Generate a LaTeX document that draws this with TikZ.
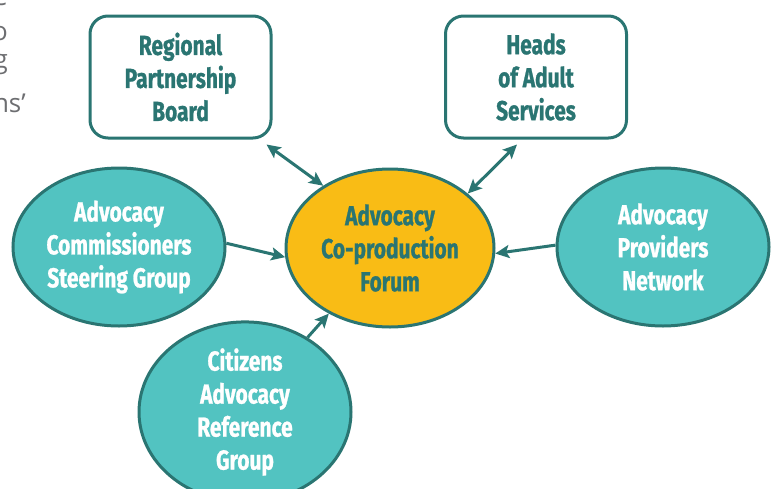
\documentclass[tikz,border=0pt]{standalone}
\usepackage{fontspec}
\usetikzlibrary{shapes.geometric,arrows.meta}
\newfontfamily\labelfont{Fira Sans}[FakeStretch=0.76, BoldFeatures={FakeBold=0.9}]
\newfontfamily\bodyfont{Open Sans}
\definecolor{tealdark}{HTML}{2A7572}
\definecolor{tealfill}{HTML}{52C3C1}
\definecolor{gold}{HTML}{F9BC15}
\definecolor{textgray}{HTML}{6D6E71}
\tikzset{
  labeltext/.style={font=\labelfont\bfseries\fontsize{27.5}{33}\selectfont, align=center, inner sep=0pt},
  board/.style={labeltext, draw=tealdark, line width=3pt, rounded corners=18pt, fill=white,
    text=tealdark, minimum width=181pt, minimum height=122pt},
  group/.style={labeltext, ellipse, draw=tealdark, line width=3pt, fill=tealfill,
    text=white, minimum width=212pt, minimum height=158pt},
  forumstyle/.style={group, fill=gold, text=tealdark, minimum width=208pt, minimum height=158pt},
  link/.style={draw=tealdark, line width=3pt, -{Stealth[length=14pt,width=13pt,inset=3pt]}},
  twoway/.style={link, {Stealth[length=14pt,width=13pt,inset=3pt]}-{Stealth[length=14pt,width=13pt,inset=3pt]}},
  bodytext/.style={font=\bodyfont\fontsize{26}{30}\selectfont, text=textgray, inner sep=0pt, anchor=base east}
}
\begin{document}
\begin{tikzpicture}[x=1pt,y=-1pt]
\useasboundingbox (0,0) rectangle (776,488);
\clip (0,0) rectangle (776,488);

% line endings of the neighbouring paragraph
\node[bodytext] (t1) at (8,5) {e};
\node[bodytext] (t2) at (8,40) {o};
\node[bodytext] (t3) at (8,68) {g};
\node[bodytext] (t4) at (26,112) {ns’};

% boxes
\node[board] (rpb) at (180.5,77) {Regional\\Partnership\\Board};
\node[board] (heads) at (536,77) {Heads\\of Adult\\Services};

% ellipses
\node[forumstyle] (forum) at (390,248) {Advocacy\\Co-production\\Forum};
\node[group] (comm) at (119,247) {Advocacy\\Commissioners\\Steering Group};
\node[group] (prov) at (663,247) {Advocacy\\Providers\\Network};
\node[group] (cit) at (245,412) {Citizens\\Advocacy\\Reference\\Group};

% connectors
\draw[twoway] ([shift={(-6,5)}]rpb.south east) -- (forum.137);
\draw[twoway] ([shift={(-19,5)}]heads.south) -- (forum.35);
\draw[link] (comm.2) -- (forum.185);
\draw[link] (prov.179) -- (forum.357);
\draw[link] (cit.50) -- (forum.227);
\end{tikzpicture}
\end{document}
